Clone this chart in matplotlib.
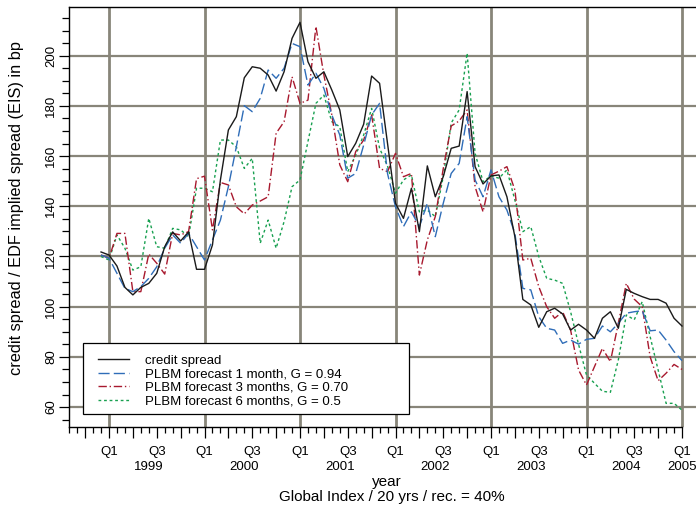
import matplotlib
matplotlib.use("Agg")
import matplotlib.pyplot as plt
import matplotlib.transforms as mtransforms
from matplotlib.patches import Rectangle
from matplotlib.ticker import FixedLocator, FixedFormatter
import numpy as np

plt.rcParams['font.family'] = ['Liberation Sans', 'DejaVu Sans']

# ---------------- data (monthly, Dec 1998 .. Jan 2005) ----------------
start_year = 1998
start_month = 12
credit_spread = [121.8,
    120.6, 116.2, 107.7, 104.7, 107.7, 109.3, 113.3, 123.9, 129.8, 126.2, 129.8, 114.9,
    114.9, 124.6, 150.5, 170.4, 175.7, 191.2, 195.6, 195.0, 192.3, 185.9, 193.6, 206.9,
    213.3, 197.6, 191.0, 193.6, 186.3, 178.4, 159.8, 165.1, 172.7, 191.9, 189.0, 165.0,
    141.2, 135.2, 147.2, 129.9, 156.1, 143.8, 151.8, 163.1, 164.0, 185.7, 155.8, 148.9,
    152.1, 152.5, 143.8, 127.9, 102.9, 100.7, 91.8, 98.0, 99.4, 97.1, 90.7, 93.0,
    90.7, 87.4, 95.4, 98.0, 91.4, 106.9, 105.3, 104.0, 102.9, 102.9, 101.4, 95.4,
    92.3]
forecast_1m = [120.6,
    119.3, 113.3, 107.3, 106.0, 108.0, 111.3, 115.9, 123.3, 128.6, 125.3, 129.2, 123.9,
    118.6, 126.6, 134.5, 147.8, 163.7, 180.1, 177.7, 183.0, 194.3, 191.0, 195.0, 204.9,
    203.6, 188.3, 193.0, 187.0, 176.4, 168.4, 151.2, 153.1, 164.4, 176.4, 181.0, 153.0,
    139.8, 131.9, 137.8, 131.9, 141.2, 127.9, 141.2, 153.1, 157.1, 175.7, 150.5, 143.8,
    154.5, 143.8, 138.5, 129.2, 107.3, 106.7, 96.0, 91.4, 90.7, 85.4, 86.7, 85.1,
    87.0, 87.4, 92.3, 90.0, 93.4, 97.4, 98.0, 98.4, 90.4, 90.7, 86.7, 82.1,
    78.5]
forecast_3m = [120.6,
    119.3, 129.2, 129.2, 106.0, 106.0, 121.0, 117.3, 113.0, 129.2, 128.6, 129.9, 151.0,
    152.0, 130.6, 149.5, 148.5, 139.8, 137.0, 140.5, 142.1, 143.8, 169.1, 173.7, 191.6,
    181.0, 182.3, 211.6, 192.3, 176.4, 156.5, 149.8, 161.8, 166.4, 176.4, 155.1, 153.8,
    161.1, 151.8, 153.1, 112.6, 126.6, 135.9, 155.0, 172.0, 174.0, 178.4, 147.8, 137.8,
    152.5, 154.0, 155.8, 146.5, 118.6, 119.3, 108.0, 100.0, 95.4, 98.0, 90.7, 74.8,
    68.8, 76.1, 83.4, 78.1, 93.4, 109.3, 103.0, 100.0, 80.0, 70.5, 73.5, 77.0,
    75.0]
forecast_6m = [120.0,
    118.6, 128.6, 123.3, 114.6, 115.9, 135.2, 123.9, 123.3, 131.2, 130.6, 127.9, 147.2,
    147.2, 145.8, 166.4, 166.4, 163.7, 155.1, 159.1, 125.3, 134.5, 123.3, 133.9, 147.8,
    150.5, 165.8, 181.0, 184.3, 173.7, 171.7, 153.8, 160.4, 168.4, 179.0, 163.1, 156.0,
    145.2, 150.5, 152.5, 137.8, 138.5, 135.9, 151.8, 173.2, 178.4, 201.0, 161.1, 149.8,
    152.1, 151.2, 154.5, 142.5, 129.9, 131.9, 120.0, 111.3, 110.6, 109.3, 98.0, 85.0,
    72.8, 69.5, 66.3, 65.9, 78.8, 96.7, 94.8, 102.0, 88.0, 74.8, 61.5, 61.5,
    58.8]
series_labels = ["credit spread",
                 "PLBM forecast 1 month, G = 0.94",
                 "PLBM forecast 3 months, G = 0.70",
                 "PLBM forecast 6 months, G = 0.5"]
years = [1999, 2000, 2001, 2002, 2003, 2004, 2005]
quarter_labels = ["Q1", "", "Q3", ""]
y_ticks = [60, 80, 100, 120, 140, 160, 180, 200]

n = len(credit_spread)
t = np.array([start_year + (start_month - 1 + i) / 12.0 for i in range(n)])

# ---------------- figure ----------------
W, H = 696, 508
fig = plt.figure(figsize=(W / 100, H / 100), dpi=100)
ax_l, ax_r, ax_t, ax_b = 69, 696, 7, 427
AW, AH = ax_r - ax_l, ax_b - ax_t
ax = fig.add_axes([ax_l / W, 1 - ax_b / H, AW / W, AH / H])

grid_col = '#888579'
for yv in y_ticks:
    ax.axhline(yv, color=grid_col, lw=1.6, zorder=1)
for yr in years:
    ax.axvline(yr, color=grid_col, lw=2.0, zorder=1)

ax.plot(t, credit_spread, color='#1a1a1a', lw=1.0, ls='-', label=series_labels[0], zorder=5)
ax.plot(t, forecast_1m, color='#2f6db8', lw=1.0, ls=(0, (8, 3)), label=series_labels[1], zorder=4)
ax.plot(t, forecast_3m, color='#a8192e', lw=1.0, ls=(0, (6, 2, 1, 2)), label=series_labels[2], zorder=3)
ax.plot(t, forecast_6m, color='#18a050', lw=1.0, ls=(0, (2, 2)), label=series_labels[3], zorder=2)

x0 = 1999 - (109 - ax_l) / 95.5
x1 = 1999 + (ax_r - 109) / 95.5
ax.set_xlim(x0, x1)
y_per_px = 1 / 2.51
ax.set_ylim(200 - (ax_b - 55.7) * y_per_px, 200 + (55.7 - ax_t) * y_per_px)

# spines
for s in ['left', 'top', 'bottom']:
    ax.spines[s].set_color('black')
    ax.spines[s].set_linewidth(1.0)
ax.spines['right'].set_visible(False)
ax.spines['bottom'].set_bounds(x0, 2005.0)

# x ticks
q_pos = []
q_lab = []
for yr in range(1998, 2006):
    for q in range(4):
        p = yr + q / 4
        if x0 <= p <= 2005.0:
            q_pos.append(p)
            q_lab.append(quarter_labels[q])
m_pos = [yr + m / 12 for yr in range(1998, 2006) for m in range(12)
         if x0 <= yr + m / 12 <= 2005.0 and m % 3 != 0]
ax.xaxis.set_major_locator(FixedLocator(q_pos))
ax.xaxis.set_major_formatter(FixedFormatter(q_lab))
ax.xaxis.set_minor_locator(FixedLocator(m_pos))
ax.tick_params(axis='x', which='major', length=8, width=0.9, pad=6, labelsize=9.5)
ax.tick_params(axis='x', which='minor', length=4, width=0.9)

# y ticks
ax.yaxis.set_major_locator(FixedLocator(y_ticks))
ax.yaxis.set_minor_locator(FixedLocator(list(range(55, 220, 5))))
ax.tick_params(axis='y', which='major', length=7, width=0.9, pad=1.5, labelsize=9.5, labelrotation=90)
ax.tick_params(axis='y', which='minor', length=5, width=0.9)
for lab in ax.get_yticklabels():
    lab.set_va('center')

# year labels
tr = mtransforms.blended_transform_factory(ax.transData, fig.transFigure)
for yr in years:
    xp = yr + 0.415 if yr < 2005 else yr
    ax.text(xp, 1 - 467 / H, str(yr), transform=tr, ha='center', va='center',
            fontsize=9.5, clip_on=False)

fig.text(387 / W, 1 - 482 / H, "year", ha='center', va='center', fontsize=11)
fig.text(392 / W, 1 - 497 / H, "Global Index / 20 yrs / rec. = 40%", ha='center',
         va='center', fontsize=11)
fig.text(17 / W, 1 - 208 / H, "credit spread / EDF implied spread (EIS) in bp",
         rotation=90, ha='center', va='center', fontsize=11.8)

# legend: frame box drawn as a rectangle, entries placed inside
box = Rectangle(((83 - ax_l) / AW, (ax_b - 414) / AH), (409 - 83) / AW, (414 - 343) / AH,
                transform=ax.transAxes, facecolor='white', edgecolor='black', lw=0.9,
                zorder=9)
ax.add_patch(box)
leg = ax.legend(loc='upper left', bbox_to_anchor=((98 - ax_l) / AW, (ax_b - 354.5) / AH),
                fontsize=9.5, frameon=False, borderaxespad=0, borderpad=0,
                handlelength=2.35, handletextpad=1.2, labelspacing=0.1)
leg.set_zorder(10)

fig.savefig("out.png", dpi=100)
